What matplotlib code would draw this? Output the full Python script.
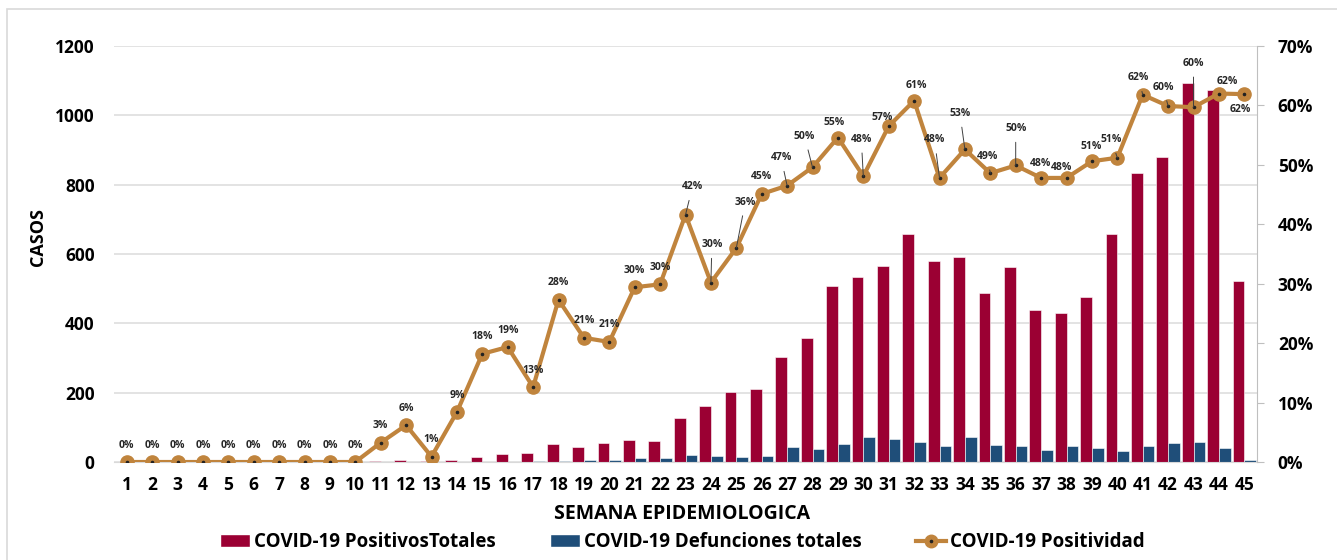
import matplotlib.pyplot as plt
import numpy as np
from matplotlib.patches import Patch, Rectangle
from matplotlib.lines import Line2D

plt.rcParams['font.family'] = ['Open Sans', 'DejaVu Sans']

# Data
weeks = [str(i) for i in range(1, 46)]
positivos = [0, 0, 0, 0, 0, 0, 0, 0, 0, 0,
             2, 7, 2, 5, 15, 22, 25, 52, 42, 55,
             63, 60, 127, 162, 203, 210, 303, 358, 507, 533,
             565, 657, 580, 591, 488, 562, 439, 429, 475, 659,
             835, 880, 1094, 1073, 523]
defunciones = [0, 0, 0, 0, 0, 0, 0, 0, 0, 0,
               0, 1, 1, 1, 1, 1, 3, 3, 7, 7,
               11, 12, 19, 17, 14, 17, 44, 38, 51, 72,
               67, 57, 46, 72, 48, 46, 36, 46, 39, 32,
               46, 55, 59, 40, 6]
positividad = [0, 0, 0, 0, 0, 0, 0, 0, 0, 0,
               3.25, 6.2, 0.9, 8.4, 18.2, 19.35, 12.6, 27.3, 20.9, 20.2,
               29.4, 29.9, 41.6, 30.2, 36.0, 45.1, 46.5, 49.6, 54.6, 48.1,
               56.5, 60.8, 47.8, 52.6, 48.6, 49.9, 47.8, 47.8, 50.6, 51.2,
               61.8, 59.9, 59.7, 62.0, 61.9]
etiquetas = [0, 0, 0, 0, 0, 0, 0, 0, 0, 0,
             3, 6, 1, 9, 18, 19, 13, 28, 21, 21,
             30, 30, 42, 30, 36, 45, 47, 50, 55, 48,
             57, 61, 48, 53, 49, 50, 48, 48, 51, 51,
             62, 60, 60, 62, 62]

# label offsets in pixels (dx, dy) and whether a leader line is drawn
offsets = {23: (7, 28, True), 24: (1, 38, True), 25: (9, 46, True),
           27: (-6, 28, True), 28: (-8, 31, True), 29: (-4, 15, False),
           30: (-2, 37, True), 31: (-7, 9, False), 32: (2, 15, False),
           33: (-5, 38, True), 34: (-5, 36, True), 35: (-3, 17, True),
           36: (0, 37, True), 37: (-1, 14, False), 38: (-5, 10, False),
           39: (-1, 15, False), 40: (-6, 18, True), 41: (-4, 17, True),
           42: (-5, 19, True), 43: (0, 44, True), 44: (8, 12, False),
           45: (-4, -15, False)}

red = '#9B0033'
blue = '#1F4E79'
orange = '#C0843D'

fig = plt.figure(figsize=(13.37, 5.6), dpi=100)
ax = fig.add_axes([114/1337, 1-462/560, 1143/1337, 416/560])
ax2 = ax.twinx()

x = np.arange(len(weeks))
w = 0.46
ax.bar(x - w/2, positivos, w, color=red, edgecolor='white', linewidth=0.4, zorder=2)
ax.bar(x + w/2, defunciones, w, color=blue, edgecolor='white', linewidth=0.4, zorder=2)

ax.set_xlim(-0.5, 44.5)
ax.set_ylim(0, 1200)
ax.set_yticks(range(0, 1201, 200))
ax.set_xticks(x)
ax.set_xticklabels(weeks)
ax.grid(axis='y', color='#E3E3E3', linewidth=1.4, zorder=0)
ax.set_axisbelow(True)
for s in ['top', 'left', 'right']:
    ax.spines[s].set_visible(False)
ax.spines['bottom'].set_color('#D9D9D9')
ax.tick_params(axis='both', length=0, labelsize=12.5)
ax.tick_params(axis='y', pad=14)
ax.tick_params(axis='x', pad=10, labelsize=12.5)
for lab in ax.get_xticklabels() + ax.get_yticklabels():
    lab.set_fontweight('bold')
ax.set_ylabel('CASOS', fontsize=13, fontweight='bold')
ax.yaxis.set_label_coords(-0.059, 0.54)
ax.set_xlabel('SEMANA EPIDEMIOLOGICA', fontsize=14, fontweight='bold')
ax.xaxis.set_label_coords(0.497, -0.1)

ax2.plot(x, positividad, color=orange, linewidth=3, marker='o', markersize=9.5,
         markerfacecolor=orange, markeredgecolor=orange, zorder=3)
ax2.scatter(x, positividad, s=2.5, color='#222222', zorder=4)
ax2.set_ylim(0, 70)
ax2.set_yticks(range(0, 71, 10))
ax2.set_yticklabels([f'{v}%' for v in range(0, 71, 10)])
for s in ['top', 'left', 'bottom']:
    ax2.spines[s].set_visible(False)
ax2.spines['right'].set_color('#BFBFBF')
ax2.tick_params(axis='y', length=5, color='#BFBFBF', pad=10, labelsize=12.5)
for lab in ax2.get_yticklabels():
    lab.set_fontweight('bold')

for i, (v, lab) in enumerate(zip(positividad, etiquetas)):
    dx, dy, leader = offsets.get(i + 1, (0, 17, False))
    props = None
    if leader:
        props = dict(arrowstyle='-', color='#404040', lw=0.7, shrinkA=4, shrinkB=0)
    ax2.annotate(f'{lab}%', (i, v), xytext=(dx, dy), textcoords='offset pixels',
                 ha='center', va='center', fontsize=7.5, fontweight='bold',
                 color='#262626', arrowprops=props, zorder=5)

handles = [Patch(facecolor=red, edgecolor='white'),
           Patch(facecolor=blue, edgecolor='white'),
           (Line2D([0], [0], color=orange, lw=3, marker='o', markersize=9,
                   markerfacecolor=orange, markeredgecolor=orange),
            Line2D([0], [0], ls='none', marker='o', markersize=1.6, color='#222222'))]
fig.legend(handles, ['COVID-19 PositivosTotales', 'COVID-19 Defunciones totales',
                     'COVID-19 Positividad'],
           loc='center', bbox_to_anchor=(0.5105, 0.032), ncol=3, frameon=False,
           prop={'size': 13.5, 'weight': 'bold'}, handlelength=1.6,
           handletextpad=0.2, columnspacing=2.9)

fig.patches.append(Rectangle((7/1337, -0.02), 1.0, 1.02 - 9/560, transform=fig.transFigure,
                             fill=False, edgecolor='#D9D9D9', linewidth=1.2))

fig.savefig('out.png', dpi=100)
